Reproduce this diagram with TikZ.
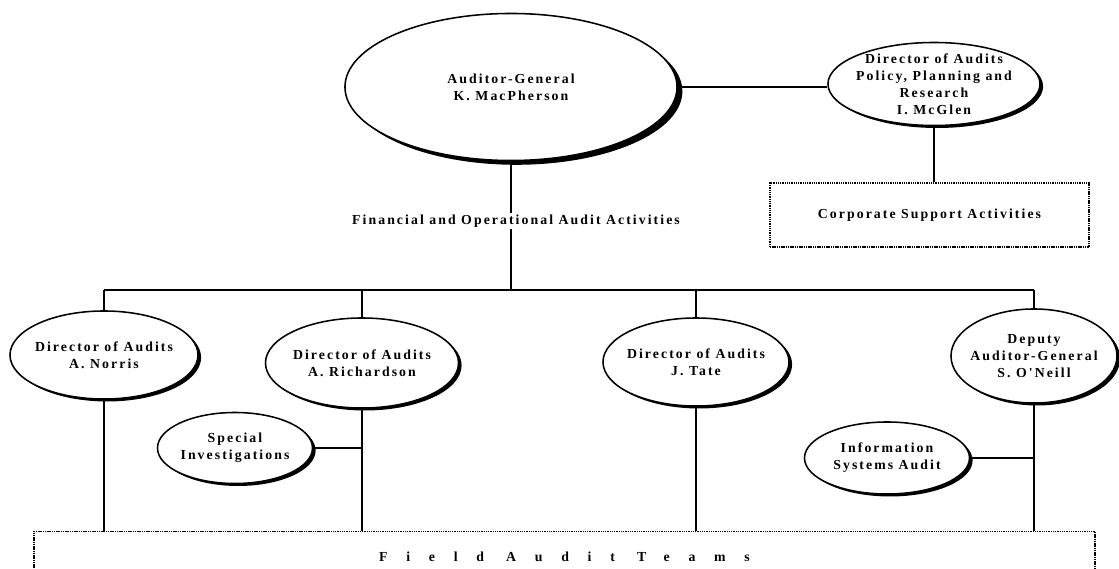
\documentclass[tikz,border=0pt]{standalone}
\usepackage{fontspec}
\setmainfont{Liberation Serif}[LetterSpace=15, Ligatures=TeXOff]
\newfontfamily\spreadfont{Liberation Serif}[LetterSpace=136]
\usetikzlibrary{shapes.geometric,shadows}
\tikzset{
        office/.style={ellipse, draw, line width=1.1pt, fill=white, align=center, inner sep=-10pt,
                drop shadow={shadow xshift=#1, shadow yshift=-0.8*#1, fill=black, opacity=1}},
        office/.default=2.2pt,
        unit/.style={draw, line width=1pt, dash pattern=on 1pt off 0.6pt, align=center, inner sep=0pt},
        link/.style={line width=1.1pt}
}
\begin{document}
\begin{tikzpicture}[x=0.025cm, y=-0.025cm, font=\fontsize{9.8}{12.2}\selectfont\bfseries]
        \useasboundingbox (0,0) rectangle (1119,569);
        \clip (0,0) rectangle (1119,569);

        \node[office=3.8pt, minimum width=8.3cm, minimum height=3.675cm] (ag) at (511,87) {Auditor-General\\K. MacPherson};
        \node[office, minimum width=5.3cm, minimum height=2.075cm] (mcglen) at (934,84) {Director of Audits\\Policy, Planning and\\Research\\I. McGlen};
        \node[unit, minimum width=7.975cm, minimum height=1.6cm] (corp) at (929.5,215) {Corporate Support Activities};

        \node[office, minimum width=4.7cm, minimum height=2.2cm] (norris) at (104,355) {Director of Audits\\A. Norris};
        \node[office, minimum width=4.825cm, minimum height=2.25cm] (richardson) at (362,363) {Director of Audits\\A. Richardson};
        \node[office, minimum width=4.65cm, minimum height=2.2cm] (tate) at (696,362) {Director of Audits\\J. Tate};
        \node[office, minimum width=4.15cm, minimum height=2.35cm] (oneill) at (1034,356) {Deputy\\Auditor-General\\S. O'Neill};
        \node[office, minimum width=3.875cm, minimum height=1.775cm] (special) at (235,448) {Special\\Investigations};
        \node[office, minimum width=4.125cm, minimum height=1.8cm] (info) at (887,458) {Information\\Systems Audit};

        \node[unit, anchor=base, text height=0.75cm, text depth=1cm, minimum width=26.525cm,
                font=\fontsize{9.8}{12.2}\selectfont\spreadfont\bfseries] (field) at (564.5,561.5) {Field Audit Teams};

        \coordinate (busl) at (104,290);
        \coordinate (busr) at (1034,290);

        \draw[link] (ag.east) -- (ag.east -| mcglen.west);
        \draw[link] (mcglen.south) -- (mcglen.south |- corp.north);
        \draw[link] (ag) -- (ag |- busl);
        \node[fill=white, inner sep=1.5pt] (fin) at (516,221) {Financial and Operational Audit Activities};
        \draw[link] (busl) -- (busr);
        \foreach \who in {norris,richardson,tate,oneill}
                \draw[link] (\who) -- (\who |- busl) (\who) -- (\who |- field.north);
        \draw[link] (special) -- (special -| richardson);
        \draw[link] (info) -- (info -| oneill);
\end{tikzpicture}
\end{document}
